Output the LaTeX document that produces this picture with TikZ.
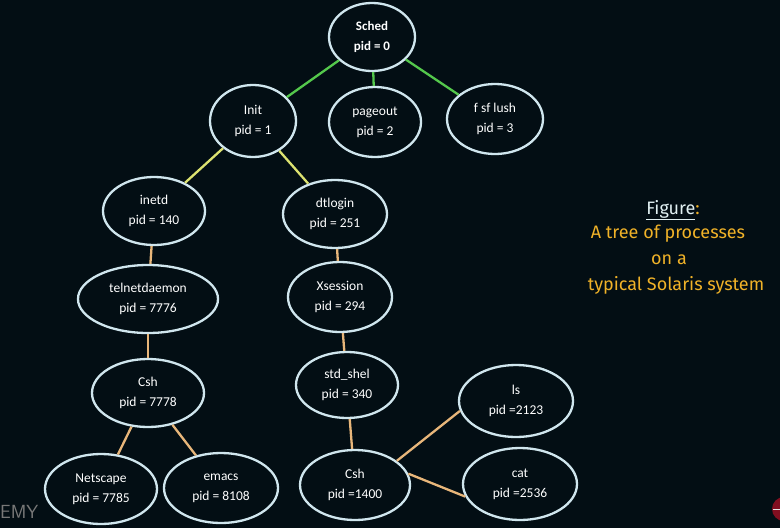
\documentclass[tikz,border=0pt]{standalone}
\usepackage{fontspec}
\setmainfont{Carlito}
\newfontfamily\capfont{Fira Sans}
\usetikzlibrary{shapes.geometric}
\definecolor{bgc}{RGB}{3,14,20}
\definecolor{rim}{RGB}{208,230,238}
\definecolor{lgreen}{RGB}{84,200,76}
\definecolor{lyellow}{RGB}{220,226,112}
\definecolor{ltan}{RGB}{232,182,122}
\definecolor{capy}{RGB}{240,178,40}
\definecolor{capw}{RGB}{225,240,242}
\definecolor{wmgray}{RGB}{120,120,120}
\definecolor{dotred}{RGB}{130,14,32}
\tikzset{
  proc/.style={ellipse, draw=rim, line width=2.3pt, inner sep=0pt, align=center,
    text=white, font=\fontsize{13.5}{20}\selectfont},
  eg/.style={lgreen, line width=2.3pt},
  ey/.style={lyellow, line width=2.3pt},
  et/.style={ltan, line width=2.3pt},
  captxt/.style={font=\capfont\fontsize{18}{20}\selectfont, text=capy, inner sep=0pt, anchor=base}
}
\begin{document}
\begin{tikzpicture}[x=1pt,y=-1pt]
\clip (0,0) rectangle (780,528);
\fill[bgc] (0,0) rectangle (780,528);
% nodes
\node[proc, minimum width=86, minimum height=68, font=\bfseries\fontsize{13}{20}\selectfont] (sched) at (372,37) {Sched\\pid = 0};
\node[proc, minimum width=86, minimum height=72] (init) at (253,121) {Init\\pid = 1};
\node[proc, minimum width=92, minimum height=70] (pageout) at (375,122) {pageout\\pid = 2};
\node[proc, minimum width=96, minimum height=70] (fsflush) at (495,119) {f sf lush\\pid = 3};
\node[proc, minimum width=102, minimum height=68] (inetd) at (154,211) {inetd\\pid = 140};
\node[proc, minimum width=104, minimum height=68] (dtlogin) at (335,214) {dtlogin\\pid = 251};
\node[proc, minimum width=140, minimum height=68] (telnet) at (148,299) {telnetdaemon\\pid = 7776};
\node[proc, minimum width=104, minimum height=70] (xsession) at (340,297) {Xsession\\pid = 294};
\node[proc, minimum width=112, minimum height=68] (csha) at (148,393) {Csh\\pid = 7778};
\node[proc, minimum width=102, minimum height=66] (stdshel) at (347,385) {std\_shel\\pid = 340};
\node[proc, minimum width=112, minimum height=70] (netscape) at (101,489) {Netscape\\pid = 7785};
\node[proc, minimum width=114, minimum height=70] (emacs) at (221,488) {emacs\\pid = 8108};
\node[proc, minimum width=110, minimum height=70] (cshb) at (355,485) {Csh\\pid =1400};
\node[proc, minimum width=114, minimum height=72] (ls) at (516,401) {ls\\pid =2123};
\node[proc, minimum width=114, minimum height=72] (cat) at (520,484) {cat\\pid =2536};
% connectors
\draw[eg] (sched) -- (init);
\draw[eg] (sched) -- (pageout);
\draw[eg] (sched) -- (fsflush);
\draw[ey] (init) -- (inetd);
\draw[ey] (init) -- (dtlogin);
\draw[et] (inetd) -- (telnet);
\draw[et] (telnet) -- (csha);
\draw[et] (csha) -- (netscape);
\draw[et] (csha) -- (emacs);
\draw[et] (dtlogin) -- (xsession);
\draw[et] (xsession) -- (stdshel);
\draw[et] (stdshel) -- (cshb);
\draw[et] (cshb.30) -- (ls.190);
\draw[et] (cshb.12) -- (cat.193);
% caption
\node[captxt, text=capw] (capfig) at (673,214) {\underline{Figure}\textcolor{capy}{:}};
\node[captxt] (cap1) at (668,238) {A tree of processes};
\node[captxt] (cap2) at (669,264) {on a};
\node[captxt] (cap3) at (676,290) {typical Solaris system};
% watermark fragments
\node[font=\sffamily\fontsize{19}{20}\selectfont, text=wmgray, anchor=base west, inner sep=0pt] (wm) at (0,518) {EMY};
\fill[dotred] (784,509) circle (12);
\draw[white!80!gray, line width=1pt] (773,509) -- (780,509);
\end{tikzpicture}
\end{document}
